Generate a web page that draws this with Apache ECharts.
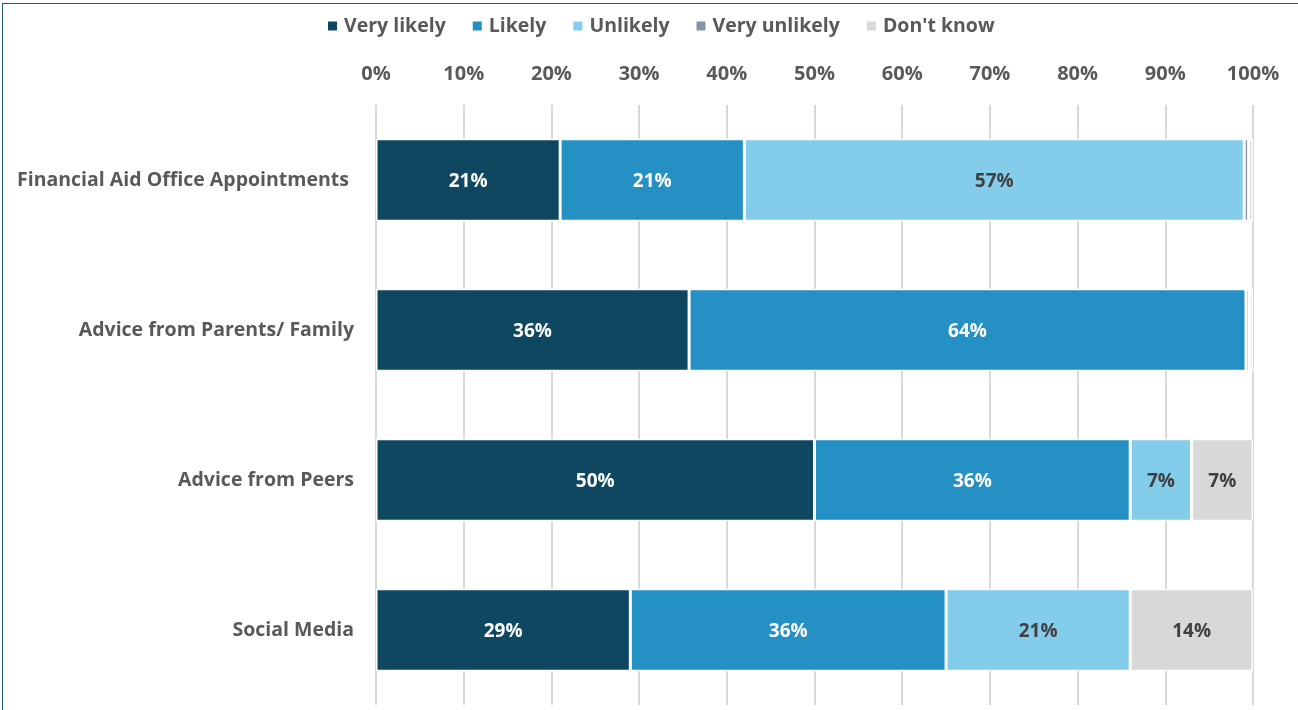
<!DOCTYPE html>
<html>
<head>
<meta charset="utf-8">
<script src="https://cdn.jsdelivr.net/npm/echarts@6/dist/echarts.min.js"></script>
<style>
  html, body { margin: 0; padding: 0; background: #fff; overflow: hidden; }
  #frame { position: absolute; left: 2px; top: 3px; width: 1400px; height: 800px;
           border: 1.5px solid #1F5878; box-sizing: border-box; }
  #chart { position: absolute; left: 0; top: 0; width: 1298px; height: 710px; }
</style>
</head>
<body>
<div id="frame"></div>
<div id="chart"></div>
<script>
// Survey categories (top to bottom)
const categories = [
  'Financial Aid Office Appointments ',
  'Advice from Parents/ Family',
  'Advice from Peers',
  'Social Media'
];
// Share of responses per answer, in percent
const veryLikely   = [21,  35.7, 50, 29];
const likely       = [21,  63.5, 36, 36];
const unlikely     = [57,  0.4,  7,  21];
const veryUnlikely = [0.5, 0,    0,  0];
const dontKnow     = [0.5, 0.4,  7,  14];
// Axis tick values
const ticks = [0, 10, 20, 30, 40, 50, 60, 70, 80, 90, 100];

const seriesDefs = [
  { name: 'Very likely',   data: veryLikely,   color: '#0F4761', text: '#FFFFFF' },
  { name: 'Likely',        data: likely,       color: '#2490C4', text: '#FFFFFF' },
  { name: 'Unlikely',      data: unlikely,     color: '#83CDEB', text: '#404040' },
  { name: 'Very unlikely', data: veryUnlikely, color: '#8497A8', text: '#404040' },
  { name: "Don't know",    data: dontKnow,     color: '#D9D8D7', text: '#404040' }
];

const FONT = '"Open Sans", sans-serif';

const chart = echarts.init(document.getElementById('chart'), null, { renderer: 'canvas' });
chart.setOption({
  animation: false,
  backgroundColor: 'transparent',
  legend: {
    top: 11,
    left: 321,
    itemWidth: 11,
    itemHeight: 11,
    itemGap: 25,
    icon: 'rect',
    textStyle: { fontFamily: FONT, fontSize: 19.5, fontWeight: 'bold', color: '#595959', padding: [0, 0, 0, 1] },
    data: seriesDefs.map(s => s.name)
  },
  grid: { left: 376, right: 45, top: 105, bottom: 5 },
  xAxis: {
    type: 'value',
    position: 'top',
    min: ticks[0],
    max: ticks[ticks.length - 1],
    interval: ticks[1] - ticks[0],
    axisLine: { show: false },
    axisTick: { show: false },
    axisLabel: {
      margin: 21,
      fontFamily: FONT, fontSize: 20, fontWeight: 'bold', color: '#595959',
      formatter: v => v + '%'
    },
    splitLine: { show: true, lineStyle: { color: '#D9D9D9', width: 2 } }
  },
  yAxis: {
    type: 'category',
    inverse: true,
    data: categories,
    axisLine: { show: false },
    axisTick: { show: false },
    axisLabel: {
      margin: 22,
      fontFamily: FONT, fontSize: 19.5, fontWeight: 'bold', color: '#595959',
      padding: [3, 0, 0, 0]
    }
  },
  series: seriesDefs.map(s => ({
    name: s.name,
    type: 'bar',
    stack: 'total',
    barWidth: '55%',
    data: s.data,
    itemStyle: { color: s.color, borderColor: '#FFFFFF', borderWidth: 1.5 },
    label: {
      show: true,
      position: 'inside',
      offset: [0, 2],
      fontFamily: FONT, fontSize: 19, fontWeight: 'bold', color: s.text,
      formatter: p => (p.value >= 3 ? Math.round(p.value) + '%' : '')
    }
  }))
});
</script>
</body>
</html>
